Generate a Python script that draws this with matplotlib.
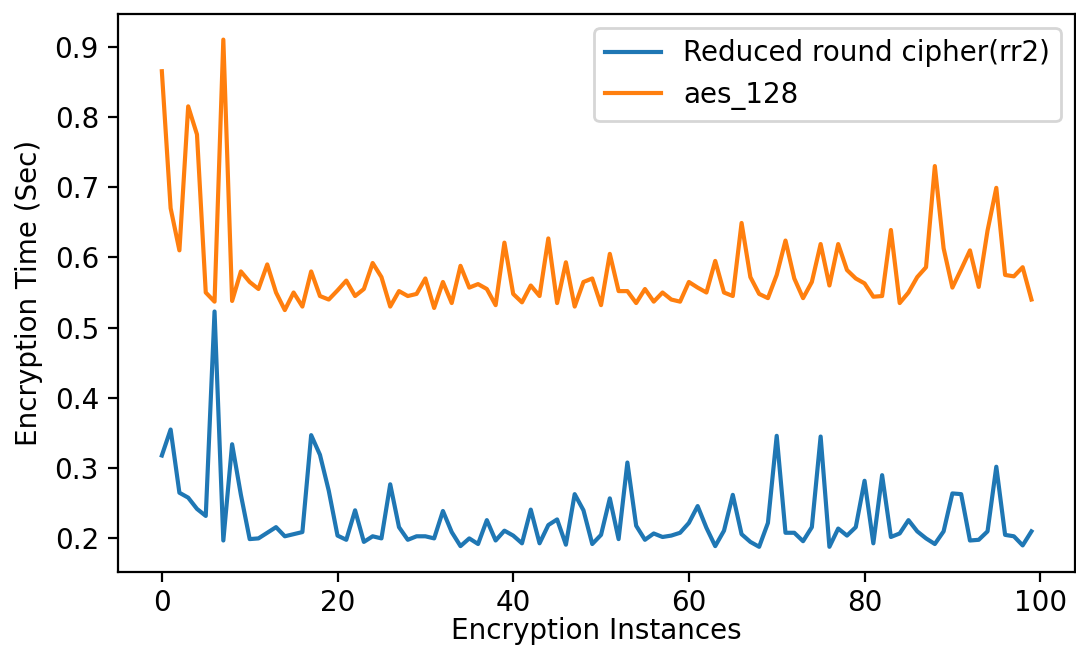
import matplotlib
matplotlib.use("Agg")
import matplotlib.pyplot as plt

rr2_times = [
    0.318, 0.355, 0.265, 0.258, 0.242, 0.232, 0.523, 0.197, 0.334, 0.262,
    0.199, 0.200, 0.208, 0.216, 0.203, 0.206, 0.209, 0.347, 0.319, 0.268,
    0.204, 0.198, 0.240, 0.195, 0.203, 0.200, 0.277, 0.216, 0.198, 0.203,
    0.203, 0.200, 0.239, 0.209, 0.189, 0.200, 0.192, 0.226, 0.197, 0.211,
    0.204, 0.193, 0.241, 0.193, 0.219, 0.227, 0.191, 0.263, 0.240, 0.192,
    0.205, 0.257, 0.199, 0.308, 0.218, 0.198, 0.207, 0.202, 0.204, 0.208,
    0.222, 0.246, 0.215, 0.189, 0.211, 0.262, 0.206, 0.195, 0.188, 0.222,
    0.346, 0.208, 0.208, 0.196, 0.216, 0.345, 0.188, 0.214, 0.204, 0.216,
    0.282, 0.193, 0.290, 0.202, 0.207, 0.226, 0.210, 0.200, 0.192, 0.210,
    0.264, 0.263, 0.197, 0.198, 0.210, 0.302, 0.205, 0.203, 0.190, 0.210,
]

aes_times = [
    0.865, 0.670, 0.610, 0.815, 0.775, 0.550, 0.537, 0.910, 0.538, 0.580,
    0.565, 0.555, 0.590, 0.550, 0.525, 0.550, 0.530, 0.580, 0.545, 0.540,
    0.553, 0.567, 0.545, 0.555, 0.592, 0.572, 0.530, 0.552, 0.545, 0.548,
    0.570, 0.528, 0.565, 0.535, 0.588, 0.557, 0.562, 0.555, 0.532, 0.621,
    0.548, 0.536, 0.560, 0.545, 0.627, 0.535, 0.593, 0.530, 0.565, 0.570,
    0.532, 0.605, 0.552, 0.552, 0.535, 0.555, 0.537, 0.550, 0.540, 0.537,
    0.565, 0.557, 0.550, 0.595, 0.550, 0.545, 0.649, 0.572, 0.548, 0.542,
    0.575, 0.624, 0.570, 0.542, 0.565, 0.619, 0.560, 0.619, 0.582, 0.570,
    0.563, 0.544, 0.545, 0.639, 0.535, 0.550, 0.572, 0.586, 0.730, 0.613,
    0.557, 0.583, 0.610, 0.558, 0.638, 0.699, 0.575, 0.573, 0.586, 0.540,
]

instances = list(range(len(rr2_times)))

fig = plt.figure(figsize=(5.38, 3.24), dpi=200)
ax = fig.add_axes([0.110, 0.117, 0.889, 0.861])
ax.plot(instances, rr2_times, label="Reduced round cipher(rr2)")
ax.plot(instances, aes_times, label="aes_128")
ax.tick_params(axis="x", pad=2.5)
ax.set_xlabel("Encryption Instances", labelpad=0)
ax.set_ylabel("Encryption Time (Sec)")
ax.legend(loc="upper right")
fig.savefig("out.png", dpi=200)
